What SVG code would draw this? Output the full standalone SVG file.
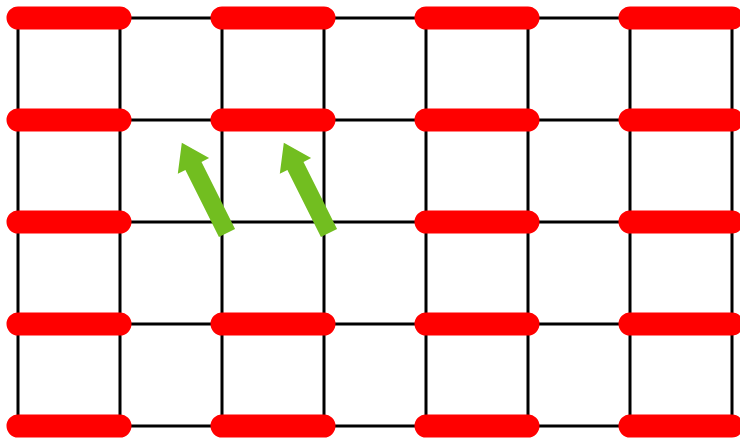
<svg xmlns="http://www.w3.org/2000/svg" width="740" height="438" viewBox="0 0 740 438">
<style>
.g{stroke:#000;stroke-width:3;fill:none}
.r{stroke:#ff0000;stroke-width:23;stroke-linecap:round;fill:none}
.a{fill:#72be20}
</style>
<defs>
<path id="arr" d="M0,-9 L75,-9 L75,-17.5 L101,0 L75,17.5 L75,9 L0,9 Z"/>
</defs>
<rect width="740" height="438" fill="#fff"/>
<g id="grid" class="g">
<path d="M18,18H732M18,120H732M18,222H732M18,324H732M18,426H732"/>
<path d="M18,18V426M120,18V426M222,18V426M324,18V426M426,18V426M528,18V426M630,18V426M732,18V426"/>
</g>
<g id="bars" class="r">
<path d="M18,18H120M222,18H324M426,18H528M630,18H732"/>
<path d="M18,120H120M222,120H324M426,120H528M630,120H732"/>
<path d="M18,222H120M426,222H528M630,222H732"/>
<path d="M18,324H120M222,324H324M426,324H528M630,324H732"/>
<path d="M18,426H120M222,426H324M426,426H528M630,426H732"/>
</g>
<g id="arrows" class="a">
<use href="#arr" transform="translate(227,233) rotate(-116.57)"/>
<use href="#arr" transform="translate(329,233) rotate(-116.57)"/>
</g>
</svg>
